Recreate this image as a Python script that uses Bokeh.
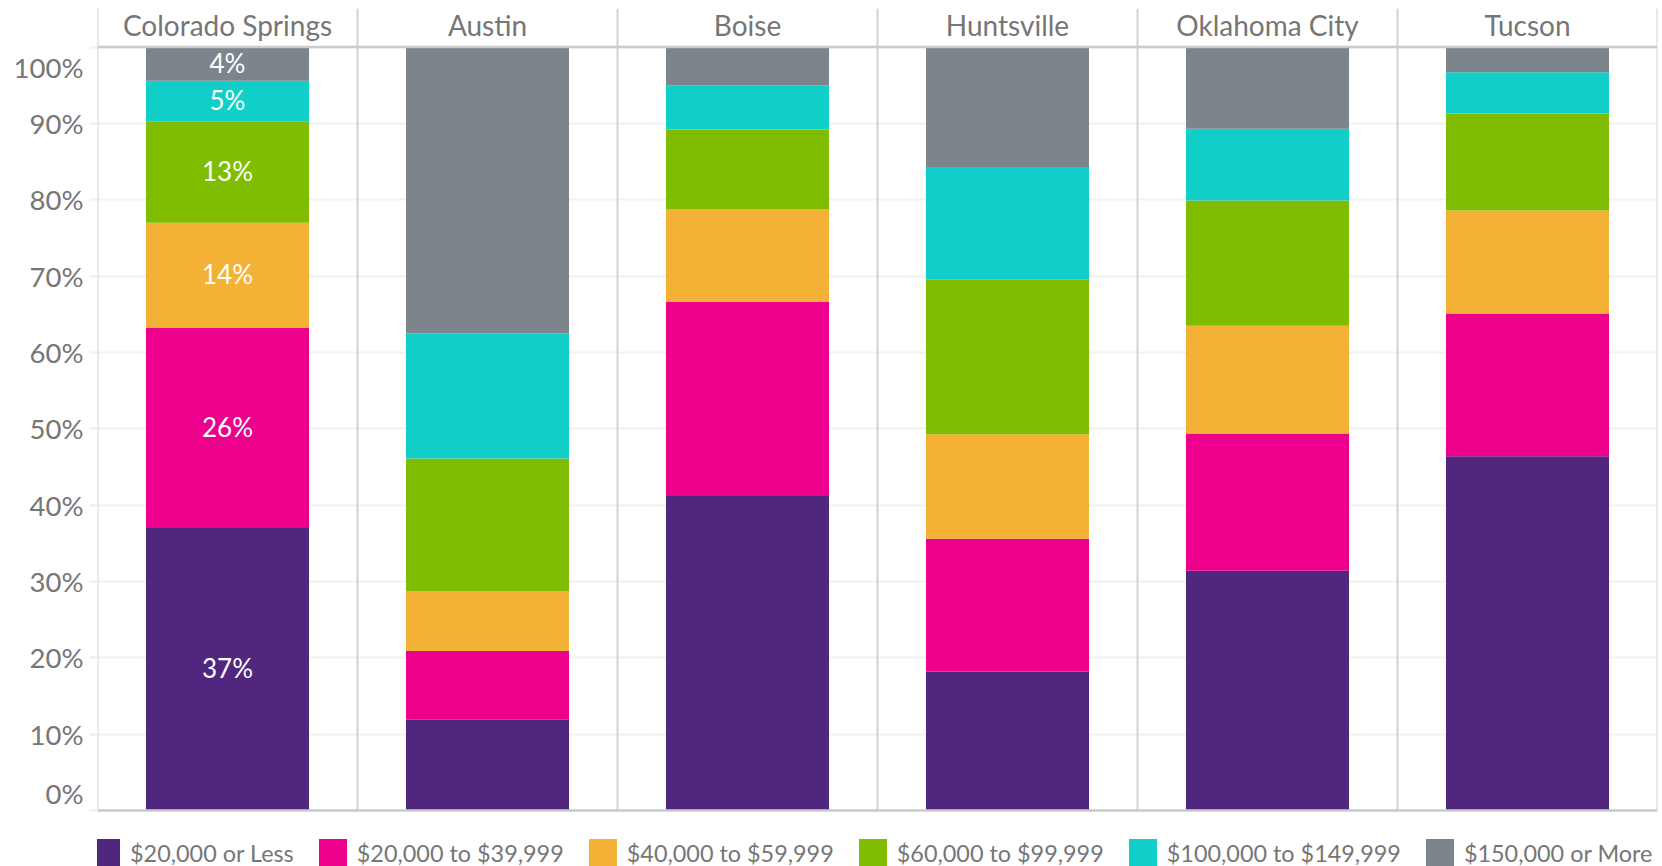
from bokeh.plotting import figure
from bokeh.models import (Range1d, FactorRange, FixedTicker, Legend, LegendItem,
                          ColumnDataSource, Span)
from bokeh.core.properties import value
from bokeh.embed import file_html
from bokeh.resources import INLINE

# ---------------- data ----------------
cities = ["Colorado Springs", "Austin", "Boise", "Huntsville", "Oklahoma City", "Tucson"]
brackets = ["$20,000 or Less", "$20,000 to $39,999", "$40,000 to $59,999",
            "$60,000 to $99,999", "$100,000 to $149,999", "$150,000 or More"]
under_20k = [37.0, 11.9, 41.2, 18.2, 31.4, 46.4]
from_20k_to_40k = [26.2, 9.0, 25.4, 17.4, 18.0, 18.7]
from_40k_to_60k = [13.8, 7.8, 12.2, 13.7, 14.1, 13.5]
from_60k_to_100k = [13.3, 17.4, 10.4, 20.3, 16.4, 12.7]
from_100k_to_150k = [5.3, 16.4, 5.8, 14.7, 9.4, 5.4]
over_150k = [4.4, 37.5, 5.0, 15.7, 10.7, 3.3]
y_ticks = [0, 10, 20, 30, 40, 50, 60, 70, 80, 90, 100]
labelled_city = "Colorado Springs"

series = [under_20k, from_20k_to_40k, from_40k_to_60k, from_60k_to_100k,
          from_100k_to_150k, over_150k]
colors = ["#50267F", "#EC008C", "#F3B135", "#80BD00", "#11CFC8", "#7B858B"]

# ---------------- layout constants (pixels) ----------------
W, H = 1662, 866
FRAME_L, FRAME_R, FRAME_T = 97, 1657, 8
Y0_PX, Y100_PX = 810, 46.6
px_per_unit = (Y0_PX - Y100_PX) / 100.0
y_start = -(H - Y0_PX) / px_per_unit
y_end = 100 + (Y100_PX - FRAME_T) / px_per_unit

FONT = "Lato"
TXT = "#767676"

p = figure(width=W, height=H, x_range=FactorRange(*cities),
           y_range=Range1d(y_start, y_end), output_backend="svg",
           toolbar_location=None, x_axis_location=None,
           min_border_left=FRAME_L, min_border_right=W - FRAME_R,
           min_border_top=FRAME_T, min_border_bottom=0)
p.outline_line_color = None
p.background_fill_color = "white"
p.border_fill_color = "white"

# grid
p.xgrid.grid_line_color = None
p.ygrid.ticker = FixedTicker(ticks=y_ticks)
p.ygrid.grid_line_color = "#f1f1f1"
p.ygrid.grid_line_width = 2

# column separators (incl. left and right borders)
bounds = list(range(len(cities) + 1))
p.segment(x0=bounds, x1=bounds, y0=[min(y_ticks)] * len(bounds),
          y1=[y_end] * len(bounds), line_color="#d3d3d3", line_width=2)

# stacked bars
data = {"city": cities}
for name, vals in zip(brackets, series):
    data[name] = vals
src = ColumnDataSource(data)
rs = p.vbar_stack(brackets, x="city", width=0.627, color=colors,
                  line_color=None, source=src)

# top & bottom axis lines
for loc in (min(y_ticks), max(y_ticks)):
    p.add_layout(Span(location=loc, dimension="width", line_color="#cccccc",
                      line_width=2.5))

# headers
totals = [sum(s[i] for s in series) for i in range(len(cities))]
p.text(x=cities, y=totals, text=cities, y_offset=-22,
       text_align="center", text_baseline="middle",
       text_font=value(FONT), text_font_size="28px", text_color=TXT)

# data labels for the first city
ci = cities.index(labelled_city)
lab_y, lab_t = [], []
acc = 0.0
for s in series:
    v = s[ci]
    lab_y.append(acc + v / 2.0)
    lab_t.append(f"{v:.0f}%")
    acc += v
p.text(x=[labelled_city] * len(lab_y), y=lab_y, text=lab_t, y_offset=-1,
       text_align="center", text_baseline="middle",
       text_font=value(FONT), text_font_size="26px", text_color="white")

# y axis: labels (ends nudged inward like the original), minor ticks = gridline stubs
shift = {y_ticks[0]: 17 / px_per_unit, y_ticks[-1]: -20 / px_per_unit}
label_pos = [round(t + shift.get(t, 0.0), 3) for t in y_ticks]
ax = p.yaxis[0]
ax.ticker = FixedTicker(ticks=label_pos, minor_ticks=y_ticks)
ax.major_label_overrides = {pos: f"{t}%" for pos, t in zip(label_pos, y_ticks)}
ax.axis_line_color = None
ax.major_tick_line_color = None
ax.major_tick_out = 8
ax.major_tick_in = 0
ax.minor_tick_out = 8
ax.minor_tick_in = 0
ax.minor_tick_line_color = "#eeeeee"
ax.minor_tick_line_width = 2
ax.major_label_standoff = 6
ax.major_label_text_font = FONT
ax.major_label_text_font_size = "27.5px"
ax.major_label_text_color = TXT

# legend
legend = Legend(items=[LegendItem(label=b, renderers=[r]) for b, r in zip(brackets, rs)],
                orientation="horizontal", location=(-9, -4),
                glyph_width=35, glyph_height=35, label_standoff=7, spacing=21,
                padding=0, margin=0, border_line_color=None,
                background_fill_alpha=0,
                label_text_font=FONT, label_text_font_size="23.4px",
                label_text_color=TXT, label_height=35)
p.add_layout(legend)

open("out.html", "w").write(file_html(p, INLINE))
